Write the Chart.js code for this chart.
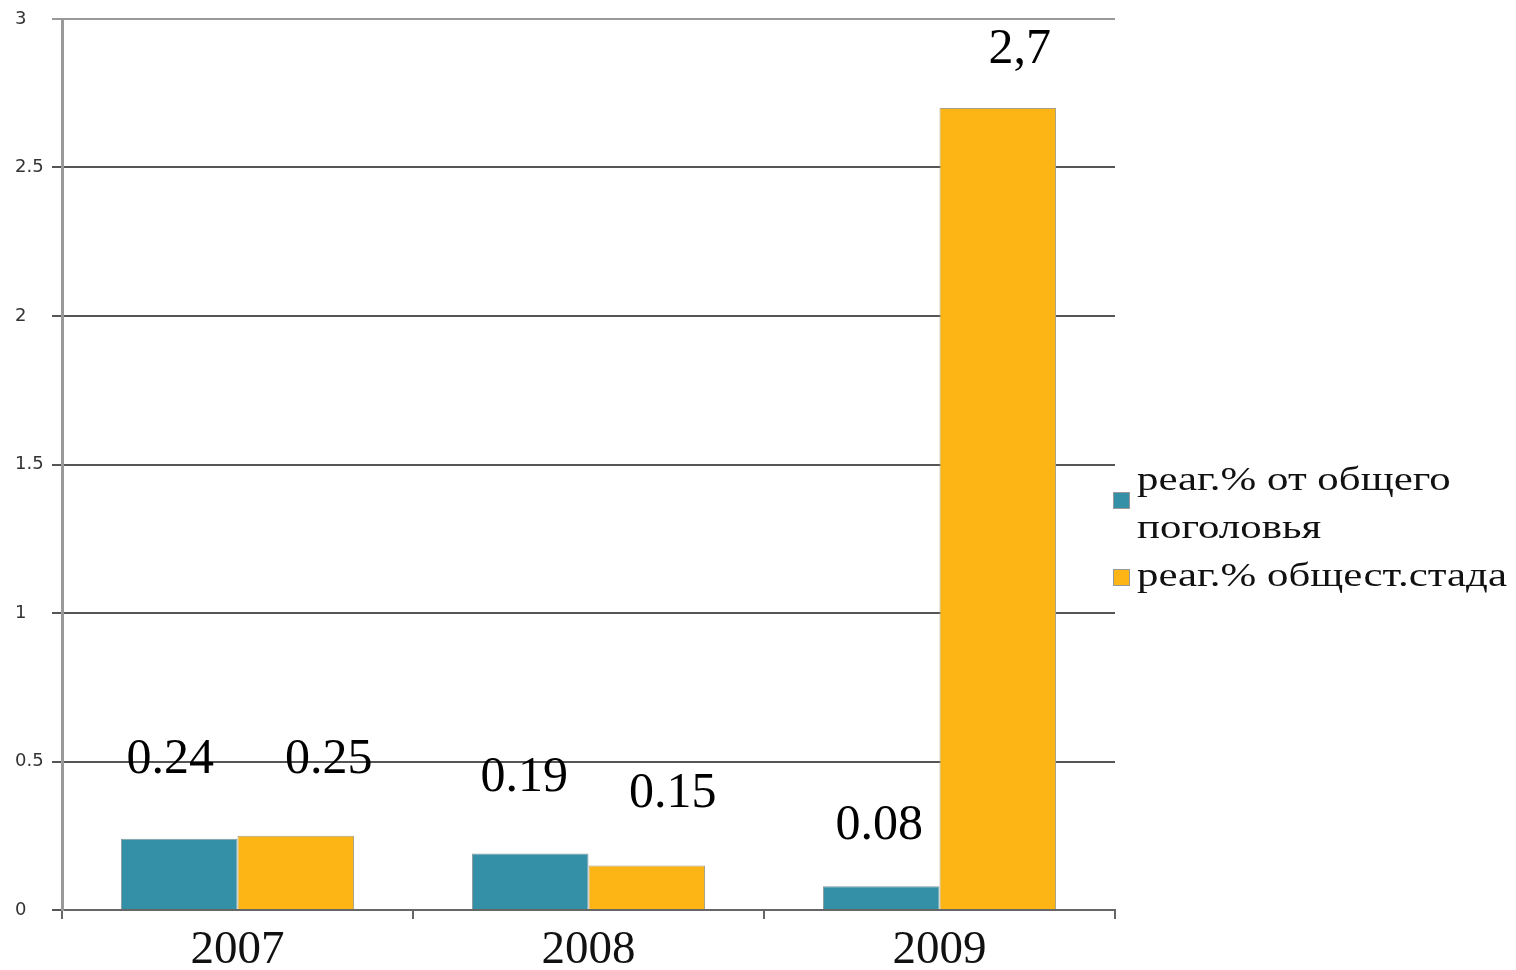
<!DOCTYPE html>
<html>
<head>
<meta charset="utf-8">
<script src="https://cdn.jsdelivr.net/npm/chart.js@4.4.1/dist/chart.umd.min.js"></script>
<style>
    html, body { margin: 0; padding: 0; background: #ffffff; }
    #wrap { width: 1516px; height: 970px; position: relative; }
</style>
</head>
<body>
<div id="wrap"><canvas id="reagChart"></canvas></div>
<script>
const years = ["2007", "2008", "2009"];
const totalHerd = [0.24, 0.19, 0.08];
const publicHerd = [0.25, 0.15, 2.7];
const totalHerdText = ["0.24", "0.19", "0.08"];
const publicHerdText = ["0.25", "0.15", "2,7"];
const yTicks = [0, 0.5, 1, 1.5, 2, 2.5, 3];
const seriesNames = [["реаг.% от общего", "поголовья"], ["реаг.% общест.стада"]];

const teal = "#3490a6";
const yellow = "#fdb515";

// where the value captions sit relative to the top of each bar (px)
const captionShift = [
    [[-9, -79], [-6, -76], [-2, -60]],
    [[33, -76], [26, -72], [22, -58]]
];

const captionPlugin = {
    id: "captions",
    afterDatasetsDraw(chart) {
        const ctx = chart.ctx;
        const texts = [totalHerdText, publicHerdText];
        ctx.save();
        ctx.font = "50px 'Liberation Serif', serif";
        ctx.fillStyle = "#000";
        ctx.textAlign = "center";
        ctx.textBaseline = "middle";
        chart.data.datasets.forEach((ds, di) => {
            chart.getDatasetMeta(di).data.forEach((bar, i) => {
                const s = captionShift[di][i];
                ctx.fillText(texts[di][i], bar.x + s[0], bar.y + s[1]);
            });
        });
        ctx.restore();
    }
};

// legend on the right, the text in the picture is a bit stretched sideways
const legendPlugin = {
    id: "sideLegend",
    afterDraw(chart) {
        const ctx = chart.ctx;
        const colors = [teal, yellow];
        const left = chart.chartArea.right - 2;
        let y = 481;
        ctx.save();
        ctx.font = "33px 'Liberation Serif', serif";
        ctx.textBaseline = "middle";
        ctx.textAlign = "left";
        seriesNames.forEach((lines, i) => {
            const boxY = i === 0 ? y + 11 : y - 8;
            ctx.fillStyle = colors[i];
            ctx.fillRect(left, boxY, 17, 17);
            ctx.strokeStyle = "#999";
            ctx.lineWidth = 1;
            ctx.strokeRect(left + 0.5, boxY + 0.5, 16, 16);
            ctx.fillStyle = "#111";
            lines.forEach((line, j) => {
                ctx.save();
                ctx.translate(left + 24, y + j * 48);
                ctx.scale(1.3, 1);
                ctx.fillText(line, 0, 0);
                ctx.restore();
            });
            y += lines.length * 48;
        });
        ctx.restore();
    }
};

new Chart(document.getElementById("reagChart"), {
    type: "bar",
    data: {
        labels: years,
        datasets: [
            {
                label: seriesNames[0].join(" "),
                data: totalHerd,
                backgroundColor: teal,
                borderColor: "#8a9ca0",
                borderWidth: 1,
                categoryPercentage: 0.664,
                barPercentage: 1
            },
            {
                label: seriesNames[1].join(" "),
                data: publicHerd,
                backgroundColor: yellow,
                borderColor: "#a8a08a",
                borderWidth: 1,
                categoryPercentage: 0.664,
                barPercentage: 1
            }
        ]
    },
    options: {
        responsive: true,
        maintainAspectRatio: false,
        animation: false,
        layout: { padding: { top: 19, right: 401, left: 15, bottom: 0 } },
        plugins: {
            legend: { display: false },
            tooltip: { enabled: false }
        },
        scales: {
            x: {
                grid: {
                    offset: true,
                    drawOnChartArea: false,
                    tickLength: 9,
                    color: "#666",
                    lineWidth: 2
                },
                border: { color: "#666", width: 2 },
                ticks: {
                    color: "#111",
                    padding: 3,
                    font: { family: "'Liberation Serif', serif", size: 47 }
                },
                afterFit(scale) { scale.height = 60; }
            },
            y: {
                min: 0,
                max: 3,
                afterBuildTicks(scale) {
                    scale.ticks = yTicks.map(v => ({ value: v }));
                },
                grid: {
                    tickLength: 10,
                    lineWidth: 2,
                    color: ctx => ctx.tick && ctx.tick.value === 3 ? "#999" : "#555"
                },
                border: { color: "#999", width: 3 },
                ticks: {
                    color: "#333",
                    crossAlign: "far",
                    padding: 4,
                    callback: value => String(value),
                    font: { family: "'DejaVu Sans', sans-serif", size: 18 }
                },
                afterFit(scale) { scale.width = 47; }
            }
        }
    },
    plugins: [captionPlugin, legendPlugin]
});
</script>
</body>
</html>
